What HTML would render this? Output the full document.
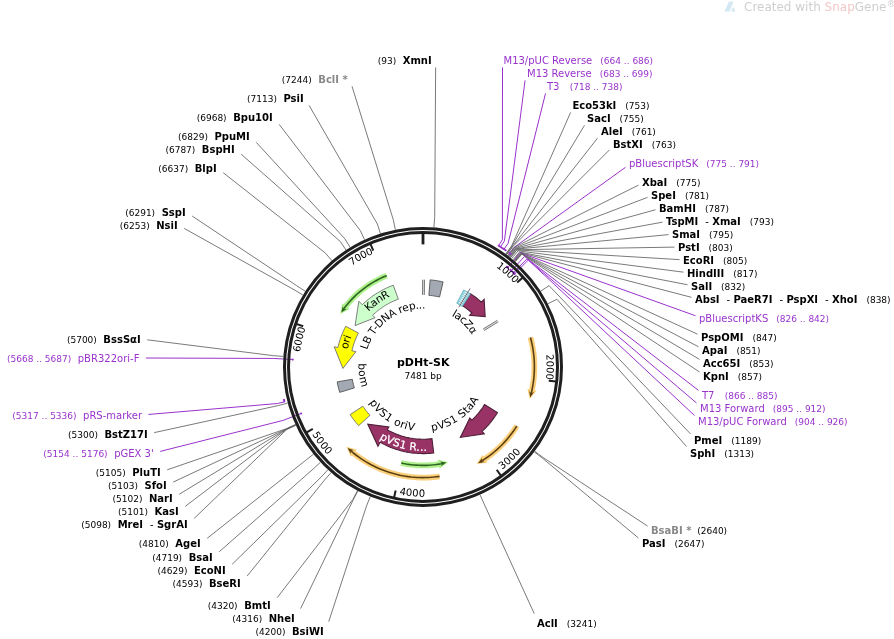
<!DOCTYPE html>
<html><head><meta charset="utf-8"><title>pDHt-SK</title>
<style>
html,body{margin:0;padding:0;background:#fff}
svg{display:block}
text{font-family:"DejaVu Sans","Liberation Sans",sans-serif;font-size:10px}
.en{font-weight:bold}
.dash{font-weight:normal}
.ps{font-size:9px;font-weight:normal}
.pn{font-weight:normal}
.ft{font-size:10.67px}
.fto{font-size:10.67px;stroke:#fff;stroke-width:0.25px}
.tk{font-size:10px}
</style></head><body>
<svg width="894" height="639" viewBox="0 0 894 639">
<rect width="894" height="639" fill="#fff"/>
<g fill="none" stroke-linejoin="round">
<path d="M498.68 245.57 L502.38 239.63 L502.5 67.4" stroke="#9933cc" stroke-width="1.0"/>
<path d="M500.61 246.79 L504.4 240.91 L525.05 80.4" stroke="#9933cc" stroke-width="1.0"/>
<path d="M504.1 249.12 L508.07 243.36 L545.52 93.4" stroke="#9933cc" stroke-width="1.0"/>
<path d="M505.76 253.98 L511.67 245.91 L570.61 112.4" stroke="#626262" stroke-width="0.85"/>
<path d="M505.94 254.12 L511.87 246.06 L584.43 125.4" stroke="#626262" stroke-width="0.85"/>
<path d="M506.51 254.54 L512.48 246.51 L597.5 138.19" stroke="#626262" stroke-width="0.85"/>
<path d="M506.7 254.68 L512.68 246.66 L609.5 149.83" stroke="#626262" stroke-width="0.85"/>
<path d="M509.65 253.14 L513.89 247.57 L625.5 167.32" stroke="#9933cc" stroke-width="1.0"/>
<path d="M507.83 255.53 L513.89 247.57 L638.5 185.09" stroke="#626262" stroke-width="0.85"/>
<path d="M508.39 255.95 L514.49 248.03 L647.5 197.38" stroke="#626262" stroke-width="0.85"/>
<path d="M508.95 256.39 L515.08 248.49 L655.5 209.74" stroke="#626262" stroke-width="0.85"/>
<path d="M509.5 256.82 L515.68 248.96 L662.5 222.16" stroke="#626262" stroke-width="0.85"/>
<path d="M509.69 256.97 L515.88 249.11 L668.5 234.61" stroke="#626262" stroke-width="0.85"/>
<path d="M510.42 257.55 L516.67 249.74 L674.5 247.11" stroke="#626262" stroke-width="0.85"/>
<path d="M510.61 257.7 L516.86 249.9 L679.5 259.61" stroke="#626262" stroke-width="0.85"/>
<path d="M511.7 258.59 L518.04 250.85 L683.5 272.17" stroke="#626262" stroke-width="0.85"/>
<path d="M513.06 259.71 L519.49 252.06 L687.5 284.76" stroke="#626262" stroke-width="0.85"/>
<path d="M513.6 260.17 L520.07 252.54 L691.5 297.35" stroke="#626262" stroke-width="0.85"/>
<path d="M507.79 267.69 L520.45 252.87 L695.5 315.75" stroke="#9933cc" stroke-width="1.0"/>
<path d="M514.4 260.86 L520.93 253.28 L697.5 334.16" stroke="#626262" stroke-width="0.85"/>
<path d="M514.76 261.16 L521.31 253.61 L698.5 346.77" stroke="#626262" stroke-width="0.85"/>
<path d="M514.94 261.32 L521.5 253.78 L699.5 359.38" stroke="#626262" stroke-width="0.85"/>
<path d="M515.29 261.63 L521.88 254.11 L699.5 371.98" stroke="#626262" stroke-width="0.85"/>
<path d="M511.31 270.82 L524.51 256.46 L698.5 390.39" stroke="#9933cc" stroke-width="1.0"/>
<path d="M513.47 272.85 L526.99 258.79 L696.5 402.96" stroke="#9933cc" stroke-width="1.0"/>
<path d="M514.57 273.92 L528.25 260.02 L694.5 415.51" stroke="#9933cc" stroke-width="1.0"/>
<path d="M540.7 291.1 L549.11 285.68 L690.5 433.92" stroke="#626262" stroke-width="0.85"/>
<path d="M547.94 303.74 L556.87 299.23 L686.5 446.48" stroke="#626262" stroke-width="0.85"/>
<path d="M534.75 451.24 L542.73 457.26 L647.5 526.03" stroke="#626262" stroke-width="0.85"/>
<path d="M534.25 451.89 L542.2 457.96 L638.5 538.06" stroke="#626262" stroke-width="0.85"/>
<path d="M480.03 494.76 L484.1 503.89 L534.23 613.6" stroke="#626262" stroke-width="0.85"/>
<path d="M433.92 227.33 L434.7 217.36 L435.65 67.4" stroke="#626262" stroke-width="0.85"/>
<path d="M395.32 229.66 L393.34 219.86 L352.05 86.4" stroke="#626262" stroke-width="0.85"/>
<path d="M380.41 233.53 L377.37 224.01 L309.1 105.4" stroke="#626262" stroke-width="0.85"/>
<path d="M364.53 239.7 L360.35 230.61 L279.2 124.38" stroke="#626262" stroke-width="0.85"/>
<path d="M350.11 247.37 L344.9 238.83 L256.2 142.29" stroke="#626262" stroke-width="0.85"/>
<path d="M345.94 250.02 L340.44 241.67 L241.2 154.21" stroke="#626262" stroke-width="0.85"/>
<path d="M331.86 260.63 L325.35 253.03 L223.2 172.7" stroke="#626262" stroke-width="0.85"/>
<path d="M305.23 291.19 L296.82 285.79 L192.2 216.04" stroke="#626262" stroke-width="0.85"/>
<path d="M302.88 294.99 L294.3 289.85 L184.2 228.42" stroke="#626262" stroke-width="0.85"/>
<path d="M283.39 356.42 L273.42 355.67 L147.2 339.81" stroke="#626262" stroke-width="0.85"/>
<path d="M292.71 359.53 L273.24 358.43 L145.9 358.02" stroke="#9933cc" stroke-width="1.0"/>
<path d="M284.33 401.82 L277.54 403.53 L148.5 414.45" stroke="#9933cc" stroke-width="1.0"/>
<path d="M287.74 403.03 L278.08 405.61 L154.2 432.61" stroke="#626262" stroke-width="0.85"/>
<path d="M301.1 413.5 L282.89 420.46 L160.2 451.4" stroke="#9933cc" stroke-width="1.0"/>
<path d="M295.44 424.6 L286.33 428.72 L167.2 469.84" stroke="#626262" stroke-width="0.85"/>
<path d="M295.54 424.81 L286.43 428.95 L173.2 482.1" stroke="#626262" stroke-width="0.85"/>
<path d="M295.59 424.92 L286.49 429.06 L179.2 494.29" stroke="#626262" stroke-width="0.85"/>
<path d="M295.64 425.02 L286.54 429.18 L185.2 506.43" stroke="#626262" stroke-width="0.85"/>
<path d="M295.78 425.34 L286.7 429.52 L194.2 518.37" stroke="#626262" stroke-width="0.85"/>
<path d="M313.49 454.12 L305.66 460.35 L207.2 538.27" stroke="#626262" stroke-width="0.85"/>
<path d="M320.47 462.22 L313.14 469.03 L219.2 551.79" stroke="#626262" stroke-width="0.85"/>
<path d="M327.96 469.69 L321.17 477.04 L232.2 564.26" stroke="#626262" stroke-width="0.85"/>
<path d="M331.11 472.52 L324.54 480.07 L247.2 575.96" stroke="#626262" stroke-width="0.85"/>
<path d="M357.52 490.64 L352.84 499.48 L277.2 597.67" stroke="#626262" stroke-width="0.85"/>
<path d="M357.93 490.86 L353.29 499.72 L300.59 608.6" stroke="#626262" stroke-width="0.85"/>
<path d="M370.3 496.6 L366.54 505.87 L328.72 621.6" stroke="#626262" stroke-width="0.85"/>
</g>
<g fill="none" stroke="#9933cc" stroke-width="1.9">
<path d="M497.88 245.19 A142.9 142.9 0 0 1 506.39 250.85"/>
<path d="M508.6 252.48 A142.9 142.9 0 0 1 511.37 254.6"/>
<path d="M284.53 402.2 A142.9 142.9 0 0 1 283.76 399.05"/>
</g>
<g fill="none" stroke="#1f1f1f">
<circle cx="423.0" cy="366.9" r="138.5" stroke-width="3"/>
<circle cx="423.0" cy="366.9" r="134.5" stroke-width="3"/>
<line x1="423" y1="232.9" x2="423" y2="244.4" stroke-width="2.8"/>
<line x1="522.77" y1="277.45" x2="517.19" y2="282.46" stroke-width="2.0"/>
<line x1="556.21" y1="381.47" x2="548.75" y2="380.66" stroke-width="2.0"/>
<line x1="501.07" y1="475.81" x2="496.7" y2="469.71" stroke-width="2.0"/>
<line x1="394.03" y1="497.73" x2="395.65" y2="490.41" stroke-width="2.0"/>
<line x1="306.25" y1="432.66" x2="312.78" y2="428.98" stroke-width="2.0"/>
<line x1="296.1" y1="323.87" x2="303.2" y2="326.28" stroke-width="2.0"/>
<line x1="370.33" y1="243.69" x2="373.27" y2="250.58" stroke-width="2.0"/>
</g>
<g fill="none" stroke="#9933cc" stroke-width="1.9">
<path d="M506.25 266.27 A130.6 130.6 0 0 1 507.99 267.74"/>
<path d="M509.71 269.24 A130.6 130.6 0 0 1 511.57 270.92"/>
<path d="M512.07 271.39 A130.6 130.6 0 0 1 514.86 274.07"/>
</g>
<circle cx="507.79" cy="267.69" r="1.1" fill="#9933cc"/>
<circle cx="511.31" cy="270.82" r="1.1" fill="#9933cc"/>
<circle cx="513.47" cy="272.85" r="1.1" fill="#9933cc"/>
<circle cx="514.57" cy="273.92" r="1.1" fill="#9933cc"/>
<circle cx="292.71" cy="359.53" r="1.1" fill="#9933cc"/>
<circle cx="301.1" cy="413.5" r="1.1" fill="#9933cc"/>
<g class="lbl">
<text x="503.5" y="63.7" fill="#9933cc"><tspan class="pn">M13/pUC Reverse</tspan><tspan class="ps" dx="8" fill="#9933cc">(664 .. 686)</tspan></text>
<text x="527" y="76.7" fill="#9933cc"><tspan class="pn">M13 Reverse</tspan><tspan class="ps" dx="8" fill="#9933cc">(683 .. 699)</tspan></text>
<text x="547" y="89.7" fill="#9933cc"><tspan class="pn">T3</tspan><tspan class="ps" dx="10.2" fill="#9933cc">(718 .. 738)</tspan></text>
<text x="572.4" y="108.7" fill="#000"><tspan class="en">Eco53kI</tspan><tspan class="ps" dx="9" fill="#000">(753)</tspan></text>
<text x="587" y="121.7" fill="#000"><tspan class="en">SacI</tspan><tspan class="ps" dx="9" fill="#000">(755)</tspan></text>
<text x="601" y="134.7" fill="#000"><tspan class="en">AleI</tspan><tspan class="ps" dx="9" fill="#000">(761)</tspan></text>
<text x="613" y="147.7" fill="#000"><tspan class="en">BstXI</tspan><tspan class="ps" dx="9" fill="#000">(763)</tspan></text>
<text x="629" y="166.7" fill="#9933cc"><tspan class="pn">pBluescriptSK</tspan><tspan class="ps" dx="8" fill="#9933cc">(775 .. 791)</tspan></text>
<text x="642" y="185.7" fill="#000"><tspan class="en">XbaI</tspan><tspan class="ps" dx="9" fill="#000">(775)</tspan></text>
<text x="651" y="198.7" fill="#000"><tspan class="en">SpeI</tspan><tspan class="ps" dx="9" fill="#000">(781)</tspan></text>
<text x="659" y="211.7" fill="#000"><tspan class="en">BamHI</tspan><tspan class="ps" dx="9" fill="#000">(787)</tspan></text>
<text x="666" y="224.7" fill="#000"><tspan class="en">TspMI<tspan class="dash" dx="7">-</tspan><tspan dx="3.3">XmaI</tspan></tspan><tspan class="ps" dx="9" fill="#000">(793)</tspan></text>
<text x="672" y="237.7" fill="#000"><tspan class="en">SmaI</tspan><tspan class="ps" dx="9" fill="#000">(795)</tspan></text>
<text x="678" y="250.7" fill="#000"><tspan class="en">PstI</tspan><tspan class="ps" dx="9" fill="#000">(803)</tspan></text>
<text x="683" y="263.7" fill="#000"><tspan class="en">EcoRI</tspan><tspan class="ps" dx="9" fill="#000">(805)</tspan></text>
<text x="687" y="276.7" fill="#000"><tspan class="en">HindIII</tspan><tspan class="ps" dx="9" fill="#000">(817)</tspan></text>
<text x="691" y="289.7" fill="#000"><tspan class="en">SalI</tspan><tspan class="ps" dx="9" fill="#000">(832)</tspan></text>
<text x="695" y="302.7" fill="#000"><tspan class="en">AbsI<tspan class="dash" dx="7">-</tspan><tspan dx="3.3">PaeR7I</tspan><tspan class="dash" dx="7">-</tspan><tspan dx="3.3">PspXI</tspan><tspan class="dash" dx="7">-</tspan><tspan dx="3.3">XhoI</tspan></tspan><tspan class="ps" dx="9" fill="#000">(838)</tspan></text>
<text x="699" y="321.7" fill="#9933cc"><tspan class="pn">pBluescriptKS</tspan><tspan class="ps" dx="8" fill="#9933cc">(826 .. 842)</tspan></text>
<text x="701" y="340.7" fill="#000"><tspan class="en">PspOMI</tspan><tspan class="ps" dx="9" fill="#000">(847)</tspan></text>
<text x="702" y="353.7" fill="#000"><tspan class="en">ApaI</tspan><tspan class="ps" dx="9" fill="#000">(851)</tspan></text>
<text x="703" y="366.7" fill="#000"><tspan class="en">Acc65I</tspan><tspan class="ps" dx="9" fill="#000">(853)</tspan></text>
<text x="703" y="379.7" fill="#000"><tspan class="en">KpnI</tspan><tspan class="ps" dx="9" fill="#000">(857)</tspan></text>
<text x="702" y="398.7" fill="#9933cc"><tspan class="pn">T7</tspan><tspan class="ps" dx="10.2" fill="#9933cc">(866 .. 885)</tspan></text>
<text x="700" y="411.7" fill="#9933cc"><tspan class="pn">M13 Forward</tspan><tspan class="ps" dx="8" fill="#9933cc">(895 .. 912)</tspan></text>
<text x="698" y="424.7" fill="#9933cc"><tspan class="pn">M13/pUC Forward</tspan><tspan class="ps" dx="8" fill="#9933cc">(904 .. 926)</tspan></text>
<text x="694" y="443.7" fill="#000"><tspan class="en">PmeI</tspan><tspan class="ps" dx="9" fill="#000">(1189)</tspan></text>
<text x="690" y="456.7" fill="#000"><tspan class="en">SphI</tspan><tspan class="ps" dx="9" fill="#000">(1313)</tspan></text>
<text x="651" y="533.7" fill="#888"><tspan class="en">BsaBI *</tspan><tspan class="ps" dx="5.8" fill="#000">(2640)</tspan></text>
<text x="642" y="546.7" fill="#000"><tspan class="en">PasI</tspan><tspan class="ps" dx="9" fill="#000">(2647)</tspan></text>
<text x="537" y="626.7" fill="#000"><tspan class="en">AclI</tspan><tspan class="ps" dx="9" fill="#000">(3241)</tspan></text>
<text x="431.7" y="63.7" fill="#000" text-anchor="end"><tspan class="ps" fill="#000">(93)</tspan><tspan class="en" dx="6.5">XmnI</tspan></text>
<text x="347.7" y="82.7" fill="#888" text-anchor="end"><tspan class="ps" fill="#000">(7244)</tspan><tspan class="en" dx="6.5">BclI *</tspan></text>
<text x="303.7" y="101.7" fill="#000" text-anchor="end"><tspan class="ps" fill="#000">(7113)</tspan><tspan class="en" dx="6.5">PsiI</tspan></text>
<text x="272.7" y="120.7" fill="#000" text-anchor="end"><tspan class="ps" fill="#000">(6968)</tspan><tspan class="en" dx="6.5">Bpu10I</tspan></text>
<text x="249.7" y="139.7" fill="#000" text-anchor="end"><tspan class="ps" fill="#000">(6829)</tspan><tspan class="en" dx="6.5">PpuMI</tspan></text>
<text x="234.7" y="152.7" fill="#000" text-anchor="end"><tspan class="ps" fill="#000">(6787)</tspan><tspan class="en" dx="6.5">BspHI</tspan></text>
<text x="216.7" y="171.7" fill="#000" text-anchor="end"><tspan class="ps" fill="#000">(6637)</tspan><tspan class="en" dx="6.5">BlpI</tspan></text>
<text x="185.7" y="215.7" fill="#000" text-anchor="end"><tspan class="ps" fill="#000">(6291)</tspan><tspan class="en" dx="6.5">SspI</tspan></text>
<text x="177.7" y="228.7" fill="#000" text-anchor="end"><tspan class="ps" fill="#000">(6253)</tspan><tspan class="en" dx="6.5">NsiI</tspan></text>
<text x="140.7" y="342.7" fill="#000" text-anchor="end"><tspan class="ps" fill="#000">(5700)</tspan><tspan class="en" dx="6.5">BssSαI</tspan></text>
<text x="139.4" y="361.7" fill="#9933cc" text-anchor="end"><tspan class="ps" fill="#9933cc">(5668 .. 5687)</tspan><tspan class="pn" dx="6.5">pBR322ori-F</tspan></text>
<text x="142" y="418.7" fill="#9933cc" text-anchor="end"><tspan class="ps" fill="#9933cc">(5317 .. 5336)</tspan><tspan class="pn" dx="6.5">pRS-marker</tspan></text>
<text x="147.7" y="437.7" fill="#000" text-anchor="end"><tspan class="ps" fill="#000">(5300)</tspan><tspan class="en" dx="6.5">BstZ17I</tspan></text>
<text x="153.7" y="456.7" fill="#9933cc" text-anchor="end"><tspan class="ps" fill="#9933cc">(5154 .. 5176)</tspan><tspan class="pn" dx="6.5">pGEX 3'</tspan></text>
<text x="160.7" y="475.7" fill="#000" text-anchor="end"><tspan class="ps" fill="#000">(5105)</tspan><tspan class="en" dx="6.5">PluTI</tspan></text>
<text x="166.7" y="488.7" fill="#000" text-anchor="end"><tspan class="ps" fill="#000">(5103)</tspan><tspan class="en" dx="6.5">SfoI</tspan></text>
<text x="172.7" y="501.7" fill="#000" text-anchor="end"><tspan class="ps" fill="#000">(5102)</tspan><tspan class="en" dx="6.5">NarI</tspan></text>
<text x="178.7" y="514.7" fill="#000" text-anchor="end"><tspan class="ps" fill="#000">(5101)</tspan><tspan class="en" dx="6.5">KasI</tspan></text>
<text x="187.7" y="527.7" fill="#000" text-anchor="end"><tspan class="ps" fill="#000">(5098)</tspan><tspan class="en" dx="6.5">MreI<tspan class="dash" dx="7">-</tspan><tspan dx="3.3">SgrAI</tspan></tspan></text>
<text x="200.7" y="546.7" fill="#000" text-anchor="end"><tspan class="ps" fill="#000">(4810)</tspan><tspan class="en" dx="6.5">AgeI</tspan></text>
<text x="212.7" y="560.7" fill="#000" text-anchor="end"><tspan class="ps" fill="#000">(4719)</tspan><tspan class="en" dx="6.5">BsaI</tspan></text>
<text x="225.7" y="573.7" fill="#000" text-anchor="end"><tspan class="ps" fill="#000">(4629)</tspan><tspan class="en" dx="6.5">EcoNI</tspan></text>
<text x="240.7" y="586.7" fill="#000" text-anchor="end"><tspan class="ps" fill="#000">(4593)</tspan><tspan class="en" dx="6.5">BseRI</tspan></text>
<text x="270.7" y="608.7" fill="#000" text-anchor="end"><tspan class="ps" fill="#000">(4320)</tspan><tspan class="en" dx="6.5">BmtI</tspan></text>
<text x="294.7" y="621.7" fill="#000" text-anchor="end"><tspan class="ps" fill="#000">(4316)</tspan><tspan class="en" dx="6.5">NheI</tspan></text>
<text x="323.7" y="634.7" fill="#000" text-anchor="end"><tspan class="ps" fill="#000">(4200)</tspan><tspan class="en" dx="6.5">BsiWI</tspan></text>
</g>
<defs><filter id="gl" x="-20%" y="-20%" width="140%" height="140%"><feGaussianBlur stdDeviation="0.7"/></filter><path id="cp1" d="M363 317.85 A77.5 77.5 0 0 1 397.43 293.74"/><path id="cp2" d="M346.07 357.53 A77.5 77.5 0 0 1 355.06 329.61"/><path id="cp3" d="M365.74 355.92 A58.3 58.3 0 0 1 431.06 309.16"/><path id="cp4" d="M445.91 313.07 A58.5 58.5 0 0 1 475 340.11"/><path id="cp5" d="M359.32 356.66 A64.5 64.5 0 0 0 364.51 394.1"/><path id="cp6" d="M365.83 396.76 A64.5 64.5 0 0 0 420.99 431.37"/><path id="cp7" d="M425.08 431.37 A64.5 64.5 0 0 0 481.86 393.29"/><path id="cp8" d="M371.97 433.62 A84 84 0 0 0 435.72 449.93"/><path id="cp9" d="M485.18 259.96 A123.7 123.7 0 0 1 522.59 293.53"/><path id="cp10" d="M544.13 341.81 A123.7 123.7 0 0 1 544.11 392.08"/><path id="cp11" d="M490.89 477.53 A129.8 129.8 0 0 0 529.44 441.19"/><path id="cp12" d="M385.94 491.3 A129.8 129.8 0 0 0 438.74 495.74"/><path id="cp13" d="M305.64 422.35 A129.8 129.8 0 0 0 337.58 464.63"/><path id="cp14" d="M299.31 365.2 A123.7 123.7 0 0 1 310.2 316.13"/><path id="cp15" d="M341.7 273.67 A123.7 123.7 0 0 1 385.5 249.02"/></defs>
<g filter="url(#gl)"><path d="M386.69 275.66 L384.32 276.64 L381.97 277.68 L379.65 278.79 L377.36 279.95 L375.1 281.18 L372.87 282.46 L370.68 283.8 L368.52 285.2 L366.4 286.65 L364.32 288.16 L362.28 289.72 L360.28 291.34 L358.32 293.01 L356.41 294.72 L354.55 296.49 L352.73 298.31 L350.96 300.17 L349.23 302.08 L347.56 304.03 L345.94 306.03 L344.38 308.06" fill="none" stroke="#aef08c" stroke-width="5.8"/><path d="M342.19 303.19 L340.31 313.94 L349.58 309.01 Z" fill="#aef08c"/></g><path d="M386.69 275.66 L384.41 276.6 L382.16 277.6 L379.93 278.65 L377.72 279.76 L375.55 280.92 L373.41 282.14 L371.29 283.42 L369.21 284.74 L367.17 286.12 L365.16 287.54 L363.18 289.02 L361.24 290.55 L359.35 292.12 L357.49 293.75 L355.67 295.41 L353.9 297.13 L352.17 298.88 L350.48 300.68 L348.84 302.53 L347.25 304.41 L345.7 306.33 L344.21 308.29 L342.76 310.29" fill="none" stroke="#2d6420" stroke-width="1.6"/><path d="M342.89 305.89 L341.21 312.56 L346.86 308.92 L343.56 309.17 Z" fill="#2d6420"/>
<g filter="url(#gl)"><path d="M530.45 337.5 L531.18 340.31 L531.84 343.14 L532.42 345.99 L532.93 348.85 L533.36 351.72 L533.72 354.6 L534 357.49 L534.21 360.38 L534.34 363.28 L534.4 366.18 L534.38 369.09 L534.28 371.99 L534.11 374.89 L533.87 377.78 L533.55 380.67 L533.15 383.54 L532.68 386.41 L532.13 389.26 L531.51 392.09" fill="none" stroke="#fad07c" stroke-width="5.8"/><path d="M536.65 390.64 L529.67 399 L527.45 388.72 Z" fill="#fad07c"/></g><path d="M530.45 337.5 L531.18 340.31 L531.83 343.13 L532.42 345.96 L532.92 348.82 L533.36 351.68 L533.71 354.55 L534 357.43 L534.21 360.32 L534.34 363.21 L534.4 366.11 L534.38 369 L534.29 371.9 L534.12 374.79 L533.88 377.67 L533.56 380.55 L533.17 383.42 L532.7 386.28 L532.16 389.12 L531.55 391.95 L530.86 394.77" fill="none" stroke="#5c3f10" stroke-width="1.6"/><path d="M534.14 391.84 L530.14 397.42 L529.26 390.74 L531.19 393.43 Z" fill="#5c3f10"/>
<g filter="url(#gl)"><path d="M516.84 426 L515.29 428.4 L513.67 430.76 L511.99 433.08 L510.25 435.36 L508.45 437.59 L506.6 439.77 L504.69 441.91 L502.72 443.99 L500.7 446.03 L498.63 448.01 L496.51 449.93 L494.35 451.8 L492.13 453.62 L489.87 455.37 L487.56 457.07 L485.21 458.71 L482.82 460.28" fill="none" stroke="#fad07c" stroke-width="5.8"/><path d="M487.51 462.83 L476.68 463.94 L482.26 455.03 Z" fill="#fad07c"/></g><path d="M516.84 426 L515.29 428.39 L513.67 430.75 L512 433.07 L510.26 435.34 L508.47 437.57 L506.62 439.74 L504.72 441.87 L502.76 443.96 L500.75 445.99 L498.68 447.96 L496.57 449.89 L494.4 451.75 L492.19 453.57 L489.94 455.32 L487.64 457.02 L485.29 458.65 L482.91 460.23 L480.48 461.74" fill="none" stroke="#5c3f10" stroke-width="1.6"/><path d="M484.87 461.93 L478.11 463.14 L482.15 457.74 L481.65 461.02 Z" fill="#5c3f10"/>
<g filter="url(#gl)"><path d="M439.55 476.36 L436.73 476.75 L433.9 477.06 L431.06 477.31 L428.22 477.48 L425.37 477.57 L422.52 477.6 L419.68 477.55 L416.83 477.43 L413.99 477.23 L411.15 476.96 L408.33 476.62 L405.51 476.21 L402.7 475.72 L399.91 475.16 L397.13 474.53 L394.37 473.83 L391.63 473.06 L388.91 472.22 L386.21 471.31 L383.53 470.33 L380.88 469.28 L378.26 468.16 L375.67 466.97 L373.12 465.72 L370.59 464.41 L368.1 463.03 L365.64 461.58 L363.23 460.07 L360.85 458.51 L358.51 456.88 L356.22 455.19 L353.97 453.44 L351.76 451.63" fill="none" stroke="#fad07c" stroke-width="5.8"/><path d="M350.73 456.87 L346.44 446.86 L356.62 449.54 Z" fill="#fad07c"/></g><path d="M439.55 476.36 L436.73 476.74 L433.91 477.06 L431.07 477.31 L428.23 477.48 L425.39 477.57 L422.54 477.6 L419.7 477.55 L416.85 477.43 L414.01 477.23 L411.18 476.97 L408.36 476.63 L405.54 476.21 L402.74 475.73 L399.95 475.17 L397.17 474.54 L394.41 473.85 L391.67 473.08 L388.96 472.23 L386.26 471.33 L383.59 470.35 L380.94 469.3 L378.32 468.18 L375.73 467 L373.18 465.75 L370.65 464.44 L368.16 463.06 L365.71 461.62 L363.29 460.12 L360.92 458.55 L358.58 456.93 L356.29 455.24 L354.04 453.5 L351.84 451.7 L349.68 449.84" fill="none" stroke="#5c3f10" stroke-width="1.6"/><path d="M350.8 454.09 L347.64 447.99 L353.99 450.24 L350.72 450.74 Z" fill="#5c3f10"/>
<g filter="url(#gl)"><path d="M401.18 462.95 L403.64 463.48 L406.11 463.94 L408.59 464.34 L411.08 464.68 L413.58 464.95 L416.09 465.16 L418.6 465.3 L421.11 465.38 L423.62 465.4 L426.14 465.35 L428.65 465.24 L431.16 465.06 L433.66 464.82 L436.16 464.52 L438.64 464.15 L441.12 463.72" fill="none" stroke="#aef08c" stroke-width="5.8"/><path d="M439.43 468.78 L448.09 462.15 L437.93 459.5 Z" fill="#aef08c"/></g><path d="M401.18 462.95 L403.65 463.48 L406.13 463.95 L408.63 464.35 L411.14 464.68 L413.65 464.96 L416.17 465.16 L418.69 465.31 L421.22 465.38 L423.75 465.4 L426.28 465.35 L428.8 465.23 L431.32 465.05 L433.84 464.8 L436.35 464.49 L438.85 464.12 L441.34 463.68 L443.82 463.18" fill="none" stroke="#2d6420" stroke-width="1.6"/><path d="M440.75 466.33 L446.5 462.56 L439.87 461.41 L442.47 463.46 Z" fill="#2d6420"/>
<path d="M393.28 285.24 L391.25 286.01 L389.24 286.82 L387.26 287.69 L385.29 288.61 L383.35 289.57 L381.43 290.59 L379.54 291.65 L377.68 292.75 L375.84 293.91 L374.04 295.11 L372.26 296.35 L370.52 297.64 L368.81 298.97 L367.13 300.34 L365.49 301.76 L363.88 303.21 L362.31 304.71 L358.89 301.2 L355.07 325.6 L375.02 317.73 L372.64 315.3 L373.95 314.06 L375.28 312.85 L376.64 311.68 L378.04 310.54 L379.46 309.43 L380.9 308.37 L382.38 307.33 L383.87 306.34 L385.4 305.38 L386.94 304.46 L388.51 303.58 L390.1 302.74 L391.71 301.94 L393.34 301.18 L394.99 300.46 L396.66 299.78 L398.34 299.15 Z" fill="#ccffcc" stroke="#707070" stroke-width="0.9" stroke-linejoin="miter"/>
<path d="M345.71 326.32 L344.68 328.34 L343.7 330.39 L342.78 332.47 L341.91 334.56 L341.1 336.68 L340.34 338.82 L339.64 340.98 L338.99 343.16 L338.4 345.35 L337.87 347.56 L334.16 346.72 L342.91 368.44 L355.91 351.66 L351.91 350.75 L352.36 348.91 L352.85 347.08 L353.39 345.26 L353.97 343.46 L354.61 341.67 L355.29 339.9 L356.01 338.15 L356.78 336.41 L357.6 334.7 L358.45 333.01 Z" fill="#ffff00" stroke="#707070" stroke-width="0.9" stroke-linejoin="miter"/>
<path d="M339.71 392.37 L339.1 390.29 L338.55 388.21 L338.04 386.11 L337.59 384 L337.2 381.88 L352.27 379.24 L352.6 380.99 L352.97 382.73 L353.38 384.46 L353.84 386.18 L354.34 387.89 Z" fill="#a3a9b2" stroke="#555" stroke-width="0.9"/>
<path d="M358.68 425.63 L357.35 424.14 L356.05 422.62 L354.79 421.07 L353.57 419.49 L352.38 417.89 L351.23 416.25 L350.12 414.59 L362.92 406.22 L363.84 407.58 L364.79 408.93 L365.77 410.25 L366.78 411.55 L367.81 412.83 L368.88 414.09 L369.98 415.31 Z" fill="#ffff00" stroke="#707070" stroke-width="0.9"/>
<path d="M433.72 452.94 L431.51 453.18 L429.3 453.37 L427.08 453.5 L424.86 453.58 L422.64 453.6 L420.42 453.56 L418.2 453.47 L415.98 453.32 L413.77 453.11 L411.56 452.84 L409.37 452.52 L407.18 452.14 L405 451.71 L402.83 451.22 L400.68 450.68 L398.54 450.08 L396.42 449.42 L394.31 448.72 L392.22 447.95 L390.16 447.14 L388.11 446.27 L386.09 445.35 L384.09 444.38 L382.12 443.36 L380.18 442.29 L377.95 446.2 L367.77 424.09 L388.87 426.98 L387.29 429.76 L388.91 430.66 L390.55 431.51 L392.22 432.32 L393.91 433.09 L395.61 433.81 L397.34 434.49 L399.08 435.13 L400.83 435.72 L402.6 436.26 L404.38 436.76 L406.18 437.22 L407.99 437.62 L409.8 437.99 L411.63 438.3 L413.46 438.57 L415.3 438.79 L417.15 438.96 L418.99 439.09 L420.85 439.17 L422.7 439.2 L424.55 439.18 L426.4 439.12 L428.25 439.01 L430.1 438.85 L431.94 438.65 Z" fill="#993366" stroke="#4d2038" stroke-width="1.1" stroke-linejoin="miter"/>
<path d="M497.52 412.57 L496.34 414.44 L495.11 416.29 L493.83 418.1 L492.51 419.89 L491.14 421.63 L489.73 423.34 L488.27 425.02 L486.78 426.66 L485.24 428.26 L483.66 429.82 L482.05 431.34 L484.34 433.84 L460.34 437.42 L469.82 417.99 L471.78 420.13 L473.11 418.88 L474.42 417.59 L475.69 416.27 L476.92 414.91 L478.12 413.53 L479.29 412.11 L480.42 410.67 L481.51 409.2 L482.57 407.7 L483.58 406.17 L484.56 404.62 Z" fill="#993366" stroke="#4d2038" stroke-width="1.1" stroke-linejoin="miter"/>
<path d="M470.24 293.6 L471.92 294.72 L473.58 295.87 L475.22 297.06 L476.82 298.29 L478.4 299.56 L479.95 300.86 L481.46 302.2 L484.14 299.23 L485.17 316.55 L469.66 315.26 L471.81 312.88 L470.54 311.77 L469.25 310.68 L467.93 309.62 L466.59 308.6 L465.23 307.6 L463.84 306.64 L462.44 305.71 Z" fill="#993366" stroke="#4d2038" stroke-width="1.1" stroke-linejoin="miter"/>
<path d="M463.71 290.01 L465.41 290.94 L467.09 291.9 L468.75 292.9 L470.38 293.94 L462.27 306.43 L460.91 305.57 L459.54 304.74 L458.15 303.95 L456.74 303.18 Z" fill="#8fd0da" stroke="#5fb3c0" stroke-width="0.8"/>
<line x1="458.78" y1="302.35" x2="462" y2="304.25" stroke="#ffffff" stroke-width="1.0"/>
<line x1="459.75" y1="300.6" x2="463.06" y2="302.55" stroke="#ffffff" stroke-width="1.0"/>
<line x1="460.72" y1="298.85" x2="464.11" y2="300.85" stroke="#ffffff" stroke-width="1.0"/>
<line x1="461.69" y1="297.11" x2="465.17" y2="299.15" stroke="#ffffff" stroke-width="1.0"/>
<line x1="462.66" y1="295.36" x2="466.23" y2="297.45" stroke="#ffffff" stroke-width="1.0"/>
<line x1="463.63" y1="293.61" x2="467.28" y2="295.76" stroke="#ffffff" stroke-width="1.0"/>
<line x1="464.6" y1="291.86" x2="468.34" y2="294.06" stroke="#ffffff" stroke-width="1.0"/>
<line x1="458.8" y1="307.33" x2="470.13" y2="288.47" stroke="#5a4a55" stroke-width="0.8"/>
<path d="M430.15 279.89 L432.33 280.1 L434.5 280.36 L436.66 280.67 L438.81 281.04 L440.95 281.47 L443.08 281.94 L439.52 297.03 L437.76 296.63 L436 296.29 L434.23 295.98 L432.45 295.73 L430.67 295.51 L428.88 295.34 Z" fill="#a3a9b2" stroke="#555" stroke-width="0.9"/>
<line x1="423.45" y1="294.9" x2="423.55" y2="279.7" stroke="#d4d4d4" stroke-width="1.6"/><line x1="424.4" y1="294.91" x2="424.5" y2="279.71" stroke="#707070" stroke-width="0.9"/><line x1="422.5" y1="294.9" x2="422.6" y2="279.7" stroke="#707070" stroke-width="0.9"/>
<line x1="483.62" y1="329.75" x2="497.78" y2="321.08" stroke="#d4d4d4" stroke-width="1.6"/><line x1="484.12" y1="330.56" x2="498.27" y2="321.89" stroke="#707070" stroke-width="0.9"/><line x1="483.13" y1="328.94" x2="497.28" y2="320.27" stroke="#707070" stroke-width="0.9"/>
<text class="ft" fill="#000" style="font-size:10.67px;letter-spacing:-0.297px"><textPath href="#cp1" startOffset="8.12">KanR</textPath></text>
<text class="ft" fill="#000" style="font-size:10.67px;letter-spacing:-0.200px"><textPath href="#cp2" startOffset="8.12">ori</textPath></text>
<text class="ft" fill="#000" style="font-size:10.67px;letter-spacing:-0.280px"><textPath href="#cp3" startOffset="6.11">LB T-DNA rep...</textPath></text>
<text class="ft" fill="#000" style="font-size:10.67px;letter-spacing:-0.290px"><textPath href="#cp4" startOffset="6.13">lacZα</textPath></text>
<text class="ft" fill="#000" style="font-size:10.67px;letter-spacing:0.385px"><textPath href="#cp5" startOffset="6.75">bom</textPath></text>
<text class="ft" fill="#000" style="font-size:10.67px;letter-spacing:0.283px"><textPath href="#cp6" startOffset="6.75">pVS1 oriV</textPath></text>
<text class="ft" fill="#000" style="font-size:10.67px;letter-spacing:0.303px"><textPath href="#cp7" startOffset="6.75">pVS1 StaA</textPath></text>
<text class="fto" fill="#fff" style="font-size:10.67px;letter-spacing:0.198px"><textPath href="#cp8" startOffset="8.8">pVS1 R...</textPath></text>
<text class="tk" fill="#000" style="font-size:10px;letter-spacing:-0.185px"><textPath href="#cp9" startOffset="12.95">1000</textPath></text>
<text class="tk" fill="#000" style="font-size:10px;letter-spacing:-0.185px"><textPath href="#cp10" startOffset="12.95">2000</textPath></text>
<text class="tk" fill="#000" style="font-size:10px;letter-spacing:0.181px"><textPath href="#cp11" startOffset="13.59">3000</textPath></text>
<text class="tk" fill="#000" style="font-size:10px;letter-spacing:0.181px"><textPath href="#cp12" startOffset="13.59">4000</textPath></text>
<text class="tk" fill="#000" style="font-size:10px;letter-spacing:0.181px"><textPath href="#cp13" startOffset="13.59">5000</textPath></text>
<text class="tk" fill="#000" style="font-size:10px;letter-spacing:-0.185px"><textPath href="#cp14" startOffset="12.95">6000</textPath></text>
<text class="tk" fill="#000" style="font-size:10px;letter-spacing:-0.185px"><textPath href="#cp15" startOffset="12.95">7000</textPath></text>
<text x="423.2" y="366" text-anchor="middle" style="font-size:11px;font-weight:bold">pDHt-SK</text>
<text x="423.2" y="378.5" text-anchor="middle" style="font-size:9px">7481 bp</text>
<g opacity="1"><path d="M724.5 11.5 L729 1.5 L733.5 1.5 L729.5 11.5 Z" fill="#d3e8f3"/><path d="M731 11.5 L733 6.5 L735.5 11.5 Z" fill="#d3e8f3"/><text x="744" y="10.5" style="font-family:'DejaVu Sans','Liberation Sans',sans-serif;font-size:12px" fill="#cfcfcf">Created with <tspan fill="#f3c8c8">Snap</tspan>Gene<tspan style="font-size:9px" dy="-3.2" dx="0.3">®</tspan></text></g>
</svg>
</body></html>
